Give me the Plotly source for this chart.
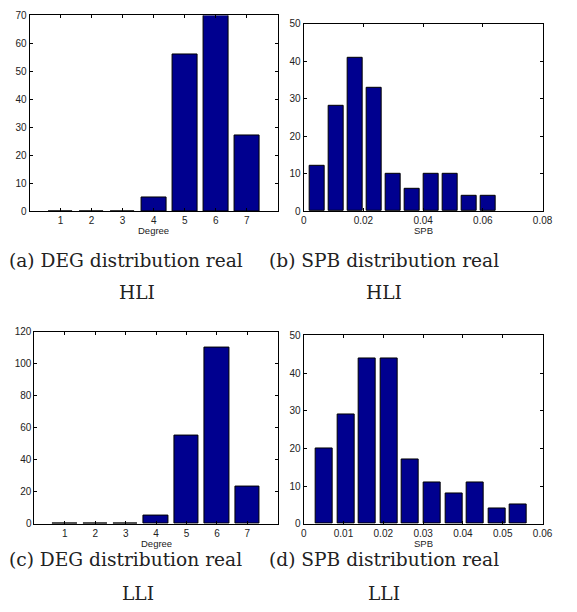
import plotly.graph_objects as go

# ---------------- data ----------------
deg_x = [1, 2, 3, 4, 5, 6, 7]
deg_hli = [0, 0, 0, 5, 56, 70, 27]
deg_lli = [0, 0, 0, 5, 55, 110, 23]

spb_hli_x = [0.0046, 0.0109, 0.0173, 0.0236, 0.0300, 0.0364, 0.0427, 0.0491, 0.0554, 0.0618]
spb_hli = [12, 28, 41, 33, 10, 6, 10, 10, 4, 4]

spb_lli_x = [0.0052, 0.0106, 0.0160, 0.0214, 0.0268, 0.0322, 0.0377, 0.0431, 0.0485, 0.0539]
spb_lli = [20, 29, 44, 44, 17, 11, 8, 11, 4, 5]

captions = [
    ("(a) DEG distribution real", "HLI"),
    ("(b) SPB distribution real", "HLI"),
    ("(c) DEG distribution real", "LLI"),
    ("(d) SPB distribution real", "LLI"),
]
axis_titles = ["Degree", "SPB", "Degree", "SPB"]

# ---------------- layout helpers ----------------
OFF = 8  # page body margin
W, H = 577 - OFF, 612 - OFF
BAR = "#00008F"
TICKFONT = dict(family="Liberation Sans, Arial, sans-serif", size=10, color="#222")
TITLEFONT = dict(family="Liberation Sans, Arial, sans-serif", size=9.5, color="#222")
CAPFONT = dict(family="DejaVu Serif, serif", size=18.6, color="#222")


def fx(px):
    return (px - OFF) / W


def fy(py):
    return 1 - (py - OFF) / H


# pixel boxes in window coordinates: (left, right, top, bottom)
boxes = [
    (27, 281, 9.5, 209),
    (307.5, 552, 18, 209),
    (32, 281, 332, 528),
    (307.5, 552, 336, 528),
]

fig = go.Figure()

series = [
    (deg_x, deg_hli, 0.8),
    (spb_hli_x, spb_hli, 0.8 * (spb_hli_x[1] - spb_hli_x[0])),
    (deg_x, deg_lli, 0.8),
    (spb_lli_x, spb_lli, 0.8 * (spb_lli_x[1] - spb_lli_x[0])),
]

for i, (xs, ys, w) in enumerate(series):
    sfx = "" if i == 0 else str(i + 1)
    fig.add_trace(go.Bar(
        x=xs, y=ys, width=w,
        marker=dict(color=BAR, line=dict(color="black", width=1)),
        xaxis="x" + sfx, yaxis="y" + sfx, showlegend=False,
    ))

xranges = [[0, 8], [0, 0.08], [0, 8], [0, 0.06]]
xticks = [deg_x, [0, 0.02, 0.04, 0.06, 0.08], deg_x, [0, 0.01, 0.02, 0.03, 0.04, 0.05, 0.06]]
xticktext = [[str(v) for v in deg_x],
             ["0", "0.02", "0.04", "0.06", "0.08"],
             [str(v) for v in deg_x],
             ["0", "0.01", "0.02", "0.03", "0.04", "0.05", "0.06"]]
yranges = [[0, 70], [0, 50], [0, 120], [0, 50]]
ydticks = [10, 10, 20, 10]

common = dict(showline=True, linecolor="black", linewidth=1, mirror="ticks",
              ticks="inside", ticklen=3, tickcolor="black", tickwidth=1,
              showgrid=False, zeroline=False, tickfont=TICKFONT, fixedrange=True,
              ticklabelstandoff=0)

layout = dict(width=W, height=H, margin=dict(l=0, r=0, t=0, b=0),
              paper_bgcolor="white", plot_bgcolor="white", bargap=0)

annotations = []
for i, (l, r, t, b) in enumerate(boxes):
    sfx = "" if i == 0 else str(i + 1)
    layout["xaxis" + sfx] = dict(common, domain=[fx(l), fx(r)], range=xranges[i],
                                 tickmode="array", tickvals=xticks[i], ticktext=xticktext[i],
                                 anchor="y" + sfx)
    layout["yaxis" + sfx] = dict(common, domain=[fy(b), fy(t)], range=yranges[i],
                                 dtick=ydticks[i], tick0=0, anchor="x" + sfx)
    cx = (l + r) / 2
    annotations.append(dict(text=axis_titles[i], x=fx(cx), y=fy(b + 20), height=11,
                            xref="paper", yref="paper", showarrow=False,
                            font=TITLEFONT, xanchor="center", yanchor="middle"))

cap_pos = [
    ((125.5, 259), (137, 292)),
    ((389.5, 259), (389.5, 292)),
    ((125.5, 565), (137.5, 599)),
    ((389.5, 565), (390, 599)),
]
for (l1, l2), ((x1, y1), (x2, y2)) in zip(captions, cap_pos):
    annotations.append(dict(text=l1, x=fx(x1), y=fy(y1), xref="paper", yref="paper",
                            showarrow=False, font=CAPFONT, xanchor="center", yanchor="middle"))
    annotations.append(dict(text=l2, x=fx(x2), y=fy(y2), xref="paper", yref="paper",
                            showarrow=False, font=CAPFONT, xanchor="center", yanchor="middle"))

layout["annotations"] = annotations
fig.update_layout(**layout)

fig.write_html("out.html")
